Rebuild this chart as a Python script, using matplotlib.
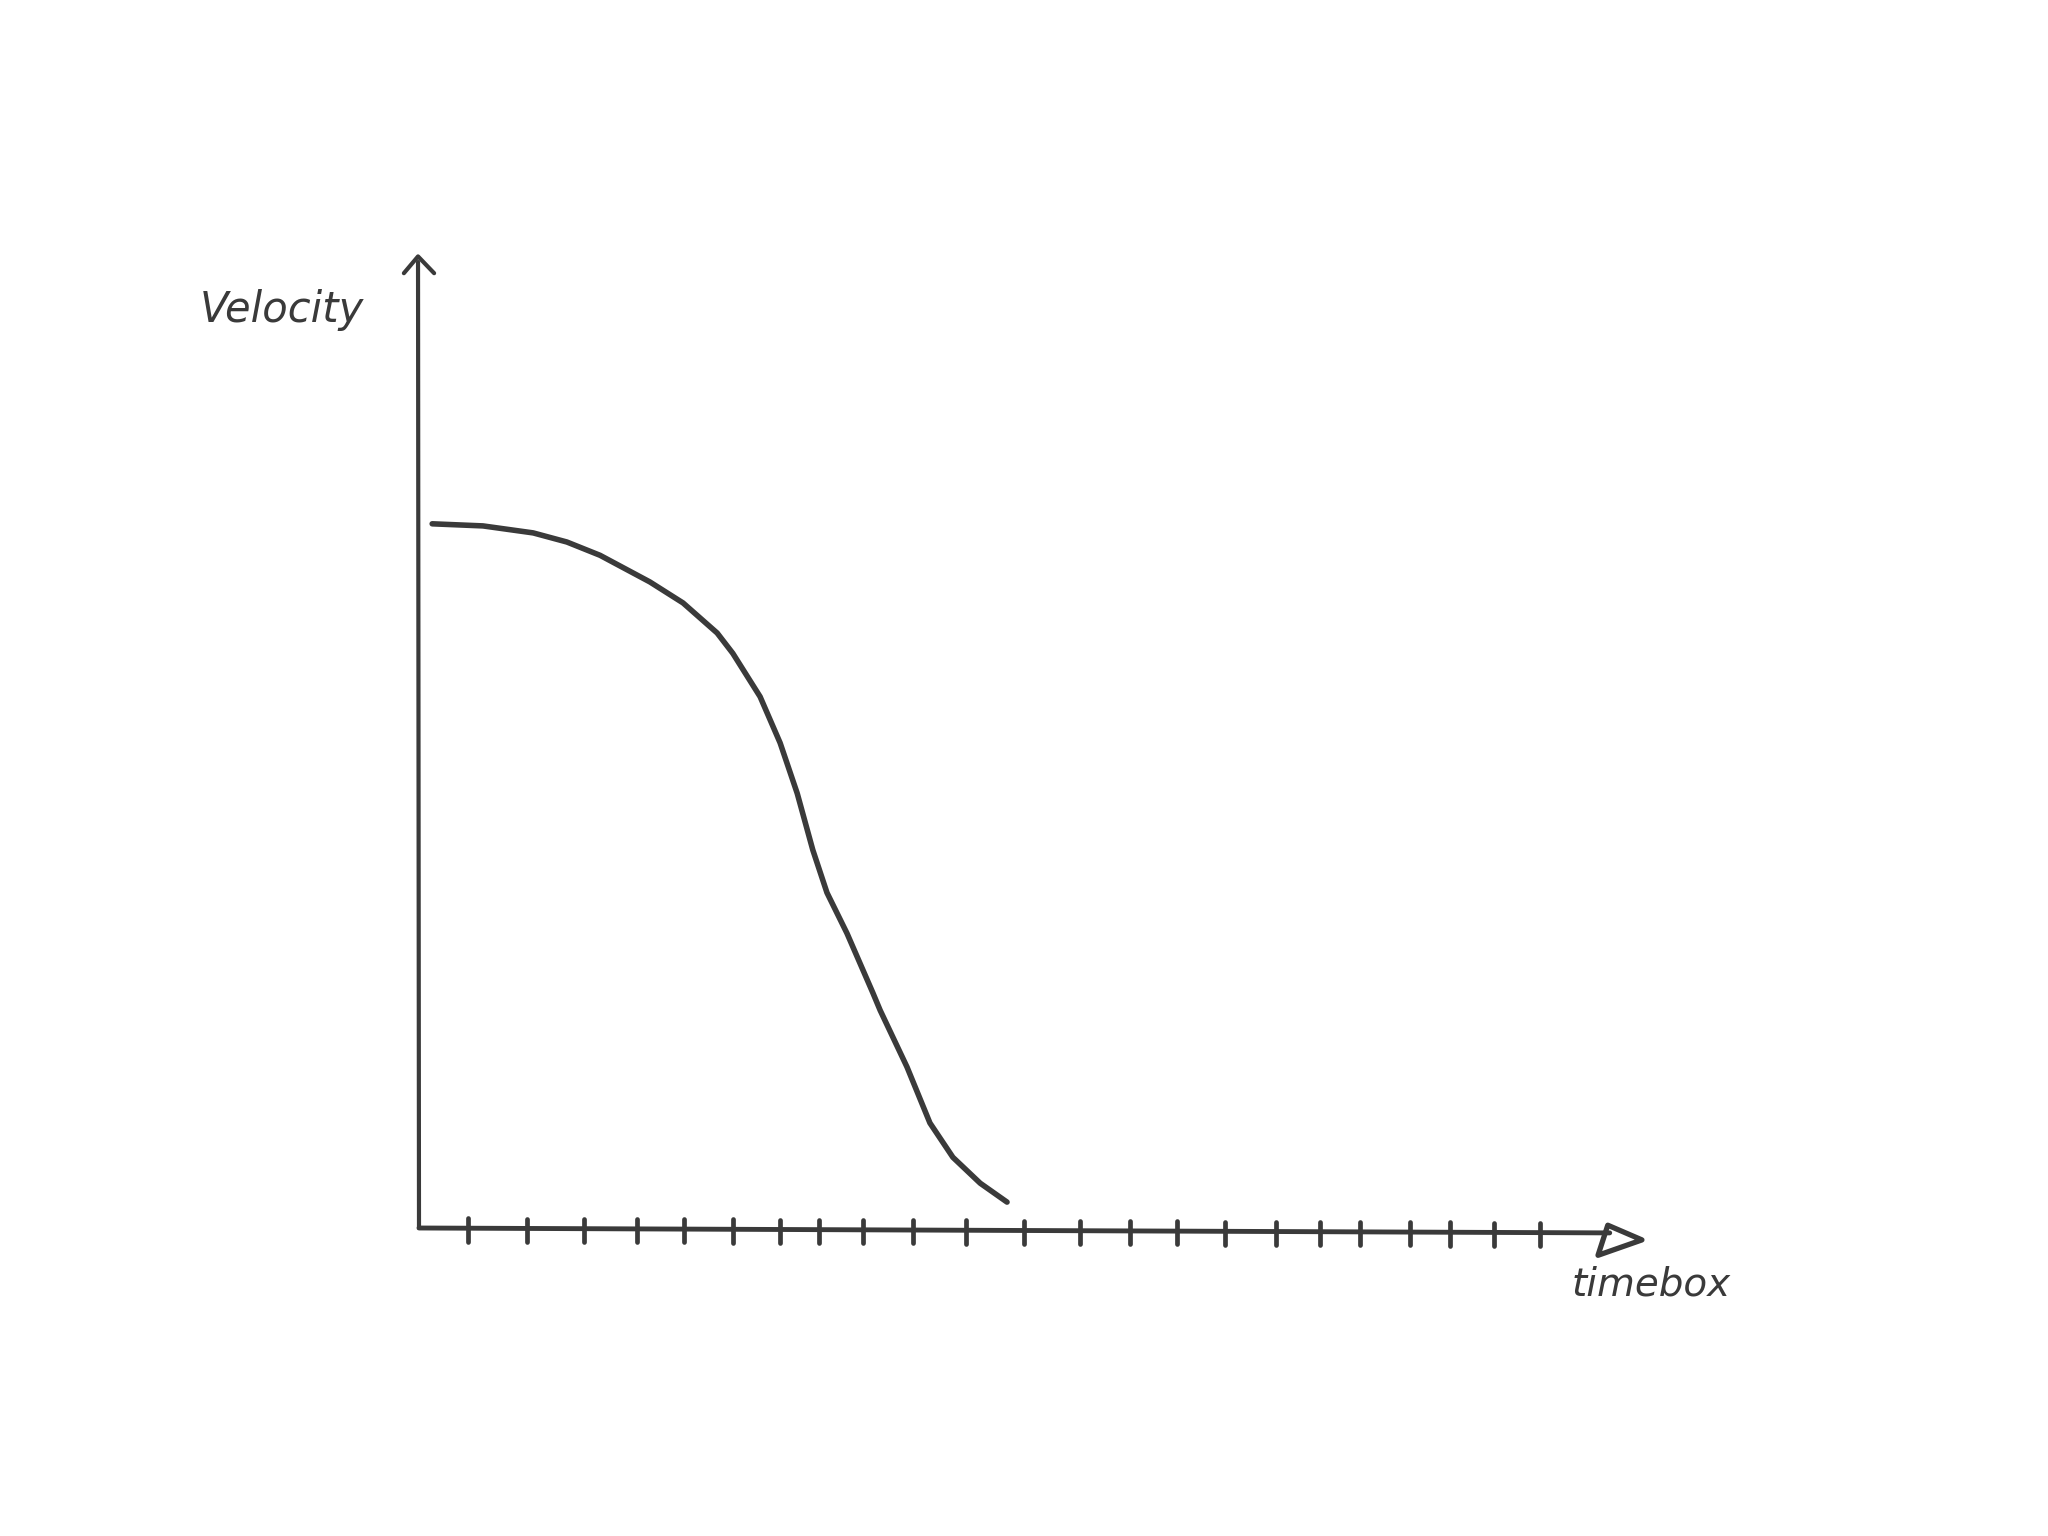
import matplotlib
matplotlib.use("Agg")
import matplotlib.pyplot as plt
from matplotlib.patches import Polygon

# ---- data (timebox units on x, velocity units on y) ----
curve_time = [0.27, 1.31, 2.34, 3.03, 3.71, 4.73, 5.41, 6.11, 6.43, 6.99, 7.40,
              7.75, 8.07, 8.36, 8.77, 9.30, 9.45, 10.0, 10.47, 10.94, 11.50, 12.05]
curve_velocity = [10.06, 10.03, 9.93, 9.80, 9.61, 9.23, 8.93, 8.50, 8.21, 7.59, 6.93,
                  6.21, 5.40, 4.79, 4.21, 3.36, 3.11, 2.30, 1.50, 1.01, 0.64, 0.37]
tick_positions = [1.00, 2.21, 3.38, 4.47, 5.43, 6.43, 7.40, 8.20, 9.10, 10.12, 11.21,
                  12.40, 13.55, 14.57, 15.53, 16.52, 17.56, 18.46, 19.28, 20.31,
                  21.13, 22.03, 22.97]
x_label = "timebox"
y_label = "Velocity"

ink = "#3a3a3a"
plt.rcParams['font.family'] = ['DejaVu Sans']

fig = plt.figure(figsize=(20.48, 15.36), dpi=100)
ax = fig.add_axes([0, 0, 1, 1])
ax.set_xlim(-8.586, 33.381)
ax.set_ylim(-4.4, 17.543)
ax.axis("off")

# y axis with open arrow head
ax.plot([0.0, -0.02], [0.0, 13.8], color=ink, lw=3.0, solid_capstyle="round")
ax.plot([-0.31, -0.02, 0.31], [13.64, 13.88, 13.64], color=ink, lw=3.0,
        solid_capstyle="round", solid_joinstyle="round")

# x axis with triangular arrow head
ax.plot([0.0, 24.4], [0.0, -0.07], color=ink, lw=3.5, solid_capstyle="round")
ax.add_patch(Polygon([[24.36, 0.04], [24.16, -0.39], [25.06, -0.17]], closed=True,
                     fill=False, edgecolor=ink, lw=3.8, joinstyle="round"))

# tick marks
for t in tick_positions:
    y0 = -0.07 * t / 24.4
    ax.plot([t, t], [y0 - 0.19, y0 + 0.14], color=ink, lw=3.4, solid_capstyle="round")

# the curve
ax.plot(curve_time, curve_velocity, color=ink, lw=4.0, solid_capstyle="round",
        solid_joinstyle="round")

# labels
ax.text(-2.8, 13.12, y_label, ha="center", va="center", fontsize=30,
        color=ink, fontstyle="italic")
ax.text(25.25, -0.81, x_label, ha="center", va="center", fontsize=28,
        color=ink, fontstyle="italic")

fig.savefig("out.png", dpi=100, facecolor="white")
